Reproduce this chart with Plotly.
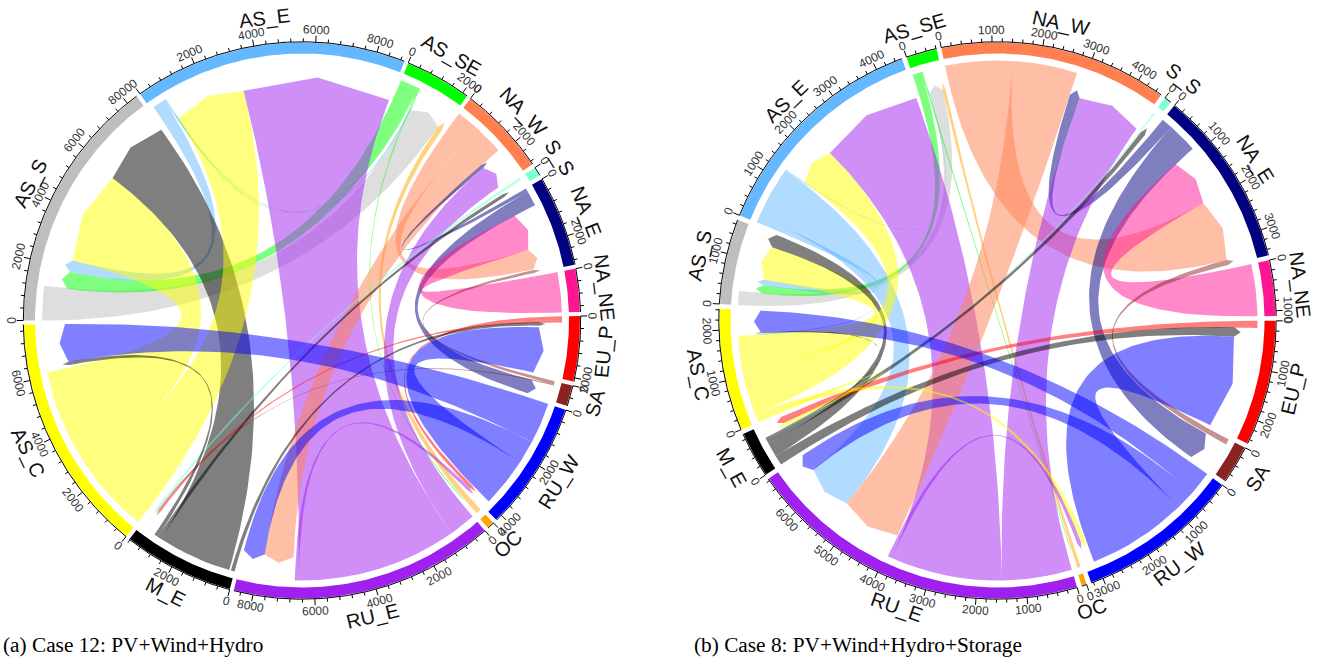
import math
import plotly.graph_objects as go

sectors = ["AS_S", "AS_E", "AS_SE", "NA_W", "S_S", "NA_E", "NA_NE", "EU_P", "SA", "RU_W", "OC", "RU_E", "M_E", "AS_C"]
sector_colors = ["#BEBEBE", "#63B8FF", "#00FF00", "#FF7F50", "#7FFFD4", "#000080", "#FF1493",
                 "#FF0000", "#8B2323", "#0000FF", "#FFA500", "#A020F0", "#000000", "#FFFF00"]

# ---- Case 12: flows (source > target) and values
flows_a = ["AS_S>AS_SE", "AS_SE>AS_S", "AS_E>AS_S", "AS_E>AS_SE", "AS_SE>AS_E", "AS_C>AS_S", "M_E>AS_S",
           "AS_C>AS_E", "RU_E>AS_E", "OC>AS_SE", "AS_SE>OC", "NA_W>NA_E", "NA_W>RU_E", "NA_E>NA_W",
           "RU_E>NA_W", "S_S>M_E", "M_E>S_S", "NA_E>SA", "NA_NE>NA_E", "SA>NA_E", "EU_P>RU_W", "EU_P>M_E",
           "M_E>EU_P", "RU_W>EU_P", "SA>M_E", "RU_W>AS_C", "RU_W>RU_E", "M_E>AS_C", "RU_E>RU_W"]
values_a = [1200, 640, 450, 60, 40, 3480, 2600,
            2660, 5600, 190, 45, 760, 1100, 130,
            930, 95, 130, 530, 1400, 110, 130, 80,
            130, 1730, 40, 1430, 800, 130, 130]
# clockwise order of the link ends inside each sector; a number is sector width with no visible link
order_a = [
    ["AS_S>AS_SE", "AS_SE>AS_S", "AS_E>AS_S", "AS_C>AS_S", "M_E>AS_S"],
    [117, "AS_E>AS_S", "AS_E>AS_SE", "AS_SE>AS_E", "AS_C>AS_E", "RU_E>AS_E"],
    ["AS_SE>AS_S", "AS_SE>AS_E", "AS_SE>OC", "AS_E>AS_SE", "AS_S>AS_SE", "OC>AS_SE"],
    ["NA_W>NA_E", "NA_W>RU_E", "NA_E>NA_W", "RU_E>NA_W"],
    ["S_S>M_E", 70, "M_E>S_S"],
    ["NA_E>NA_W", "NA_E>SA", "NA_NE>NA_E", "NA_W>NA_E", 30, "SA>NA_E"],
    ["NA_NE>NA_E"],
    ["EU_P>RU_W", "EU_P>M_E", "M_E>EU_P", 55, "RU_W>EU_P"],
    ["SA>NA_E", "SA>M_E", "NA_E>SA"],
    ["RU_W>AS_C", "RU_W>RU_E", "RU_W>EU_P", "EU_P>RU_W", "RU_E>RU_W"],
    ["OC>AS_SE", "AS_SE>OC"],
    ["RU_E>NA_W", "RU_E>AS_E", "RU_E>RU_W", 70, "NA_W>RU_E", "RU_W>RU_E"],
    ["M_E>EU_P", 60, "M_E>AS_S", "M_E>S_S", "M_E>AS_C", 300, "EU_P>M_E", "SA>M_E", "S_S>M_E", 70],
    ["AS_C>AS_E", "AS_C>AS_S", 110, "M_E>AS_C", "RU_W>AS_C"],
]

# ---- Case 8
flows_b = ["AS_S>AS_SE", "AS_SE>AS_S", "AS_E>AS_S", "AS_C>AS_S", "M_E>AS_S", "AS_E>RU_E", "AS_E>AS_SE", "AS_E>AS_C",
           "AS_C>AS_E", "RU_E>AS_E", "AS_SE>OC", "OC>AS_SE", "NA_W>NA_E", "NA_W>RU_E", "NA_E>NA_W", "RU_E>NA_W",
           "S_S>M_E", "M_E>S_S", "NA_E>SA", "NA_NE>NA_E", "SA>NA_E", "EU_P>M_E", "M_E>EU_P", "RU_W>EU_P",
           "RU_W>AS_C", "RU_W>RU_E", "AS_C>RU_W", "RU_E>RU_W", "AS_C>M_E", "M_E>AS_C"]
values_b = [300, 190, 130, 770, 300, 1090, 20, 30,
            900, 2370, 30, 70, 1420, 1380, 235, 1490,
            33, 110, 640, 1103, 120, 150, 215, 2120,
            500, 420, 115, 90, 80, 25]
order_b = [
    ["AS_S>AS_SE", "AS_SE>AS_S", "AS_E>AS_S", "AS_C>AS_S", "M_E>AS_S"],
    ["AS_E>AS_S", "AS_E>AS_C", "AS_E>RU_E", "AS_E>AS_SE", "AS_C>AS_E", "RU_E>AS_E"],
    ["AS_SE>AS_S", "AS_SE>OC", "AS_E>AS_SE", "AS_S>AS_SE", "OC>AS_SE"],
    ["NA_W>NA_E", "NA_W>RU_E", "NA_E>NA_W", "RU_E>NA_W"],
    ["S_S>M_E", "M_E>S_S"],
    ["NA_E>NA_W", "NA_E>SA", "NA_NE>NA_E", "NA_W>NA_E", "SA>NA_E"],
    ["NA_NE>NA_E"],
    ["EU_P>M_E", "M_E>EU_P", "RU_W>EU_P"],
    ["SA>NA_E", "NA_E>SA"],
    ["RU_W>AS_C", "RU_W>RU_E", "RU_W>EU_P", "AS_C>RU_W", "RU_E>RU_W"],
    ["OC>AS_SE", "AS_SE>OC"],
    ["RU_E>NA_W", "RU_E>AS_E", "RU_E>RU_W", "NA_W>RU_E", "AS_E>RU_E", "RU_W>RU_E"],
    ["M_E>EU_P", "M_E>AS_S", "M_E>S_S", "M_E>AS_C", "S_S>M_E", "AS_C>M_E", "EU_P>M_E"],
    ["AS_C>M_E", "AS_C>RU_W", "AS_C>AS_E", "AS_C>AS_S", "AS_E>AS_C", "M_E>AS_C", "RU_W>AS_C"],
]

captions = ["(a) Case 12: PV+Wind+Hydro", "(b) Case 8: PV+Wind+Hydro+Storage"]

R_OUT, R_IN, R_FLAT, R_HEAD, R_TIP = 278.0, 267.0, 260.0, 237.0, 243.5
R_TICK_LABEL, R_NAME = 290.5, 304.0


def rgba(hex_color, alpha):
    r, g, b = int(hex_color[1:3], 16), int(hex_color[3:5], 16), int(hex_color[5:7], 16)
    return f"rgba({r},{g},{b},{alpha})"


def text_rot(theta):
    t = (theta + 180) % 360 - 180
    return 90 - t if t >= 0 else -90 - t


def draw_chart(fig, flows, values, order, start, gap, cx, cy, minor, major):
    pos = lambda r, th: (cx + r * math.cos(math.radians(th)), cy - r * math.sin(math.radians(th)))
    val = dict(zip(flows, values))
    width = lambda k: k if isinstance(k, int) else val[k]
    totals = [sum(width(k) for k in o) for o in order]
    per = (360 - len(sectors) * gap) / sum(totals)

    ends = {}
    spans = []
    th = start
    for name, o, tot in zip(sectors, order, totals):
        spans.append((th, tot))
        cur = th
        for k in o:
            if not isinstance(k, int):
                src, dst = k.split(">")
                ends[(k, "src" if src == name else "dst")] = (cur, cur - val[k] * per)
            cur -= width(k) * per
        th -= tot * per + gap

    # ribbons
    for k in flows:
        a1, a2 = ends[(k, "src")]
        b1, b2 = ends[(k, "dst")]
        xs, ys = [], []
        for i in range(9):
            x, y = pos(R_FLAT, a1 + (a2 - a1) * i / 8)
            xs.append(x); ys.append(y)

        def edge(p0, p2):
            for i in range(1, 60):
                t = i / 60
                xs.append((1 - t) ** 2 * p0[0] + 2 * t * (1 - t) * cx + t * t * p2[0])
                ys.append((1 - t) ** 2 * p0[1] + 2 * t * (1 - t) * cy + t * t * p2[1])

        edge(pos(R_FLAT, a2), pos(R_HEAD, b1))
        for r, an in ((R_HEAD, b1), (R_TIP, (b1 + b2) / 2), (R_HEAD, b2)):
            x, y = pos(r, an)
            xs.append(x); ys.append(y)
        edge(pos(R_HEAD, b2), pos(R_FLAT, a1))
        color = sector_colors[sectors.index(k.split(">")[0])]
        fig.add_trace(go.Scatter(x=xs, y=ys, mode="lines", fill="toself", fillcolor=rgba(color, 0.5),
                                 line=dict(width=0), hoverinfo="skip", showlegend=False))

    # rings, axes, ticks and labels
    annotations = []
    for name, color, (th0, tot) in zip(sectors, sector_colors, spans):
        th1 = th0 - tot * per
        steps = max(2, int(abs(th0 - th1) * 2))
        arc = [th0 + (th1 - th0) * i / steps for i in range(steps + 1)]
        outer = [pos(R_OUT, a) for a in arc]
        inner = [pos(R_IN, a) for a in reversed(arc)]
        pts = outer + inner
        fig.add_trace(go.Scatter(x=[p[0] for p in pts], y=[p[1] for p in pts], mode="lines", fill="toself",
                                 fillcolor=color, line=dict(width=0), hoverinfo="skip", showlegend=False))
        ax = [pos(R_OUT + 0.7, a) for a in arc]
        tx, ty = [p[0] for p in ax] + [None], [p[1] for p in ax] + [None]
        v = 0
        while v <= tot:
            a = th0 - v * per
            length = 6.5 if v % major == 0 else 3.5
            p, q = pos(R_OUT + 0.7, a), pos(R_OUT + 0.7 + length, a)
            tx += [p[0], q[0], None]
            ty += [p[1], q[1], None]
            if v % major == 0:
                lx, ly = pos(R_TICK_LABEL, a)
                annotations.append(dict(x=lx, y=ly, text=str(v), showarrow=False, textangle=text_rot(a),
                                        xanchor="center", yanchor="middle",
                                        font=dict(family="Liberation Sans", size=12, color="#333333")))
            v += minor
        fig.add_trace(go.Scatter(x=tx, y=ty, mode="lines", line=dict(color="black", width=1),
                                 hoverinfo="skip", showlegend=False))
        mid = (th0 + th1) / 2
        nx, ny = pos(R_NAME, mid)
        annotations.append(dict(x=nx, y=ny, text=name, showarrow=False, textangle=text_rot(mid),
                                xanchor="center", yanchor="middle",
                                font=dict(family="Liberation Sans", size=20, color="#111111")))
    return annotations


fig = go.Figure()
ann = draw_chart(fig, flows_a, values_a, order_a, 180.0, 0.85, 302.0, 320.5, 400, 2000)
ann += draw_chart(fig, flows_b, values_b, order_b, 176.6, 1.0, 997.5, 320.5, 200, 1000)
for text, x in zip(captions, (0.5, 692)):
    ann.append(dict(x=x, y=645, text=text, showarrow=False, xanchor="left", yanchor="middle",
                    font=dict(family="Liberation Serif", size=21.3, color="black")))

fig.update_layout(
    width=1325, height=660, margin=dict(l=0, r=0, t=0, b=0),
    paper_bgcolor="white", plot_bgcolor="white", annotations=ann, showlegend=False,
    xaxis=dict(range=[0, 1325], visible=False, fixedrange=True),
    yaxis=dict(range=[660, 0], visible=False, fixedrange=True),
)
fig.write_html("out.html", config={"displayModeBar": False},
               post_script="document.body.style.margin='0';")
